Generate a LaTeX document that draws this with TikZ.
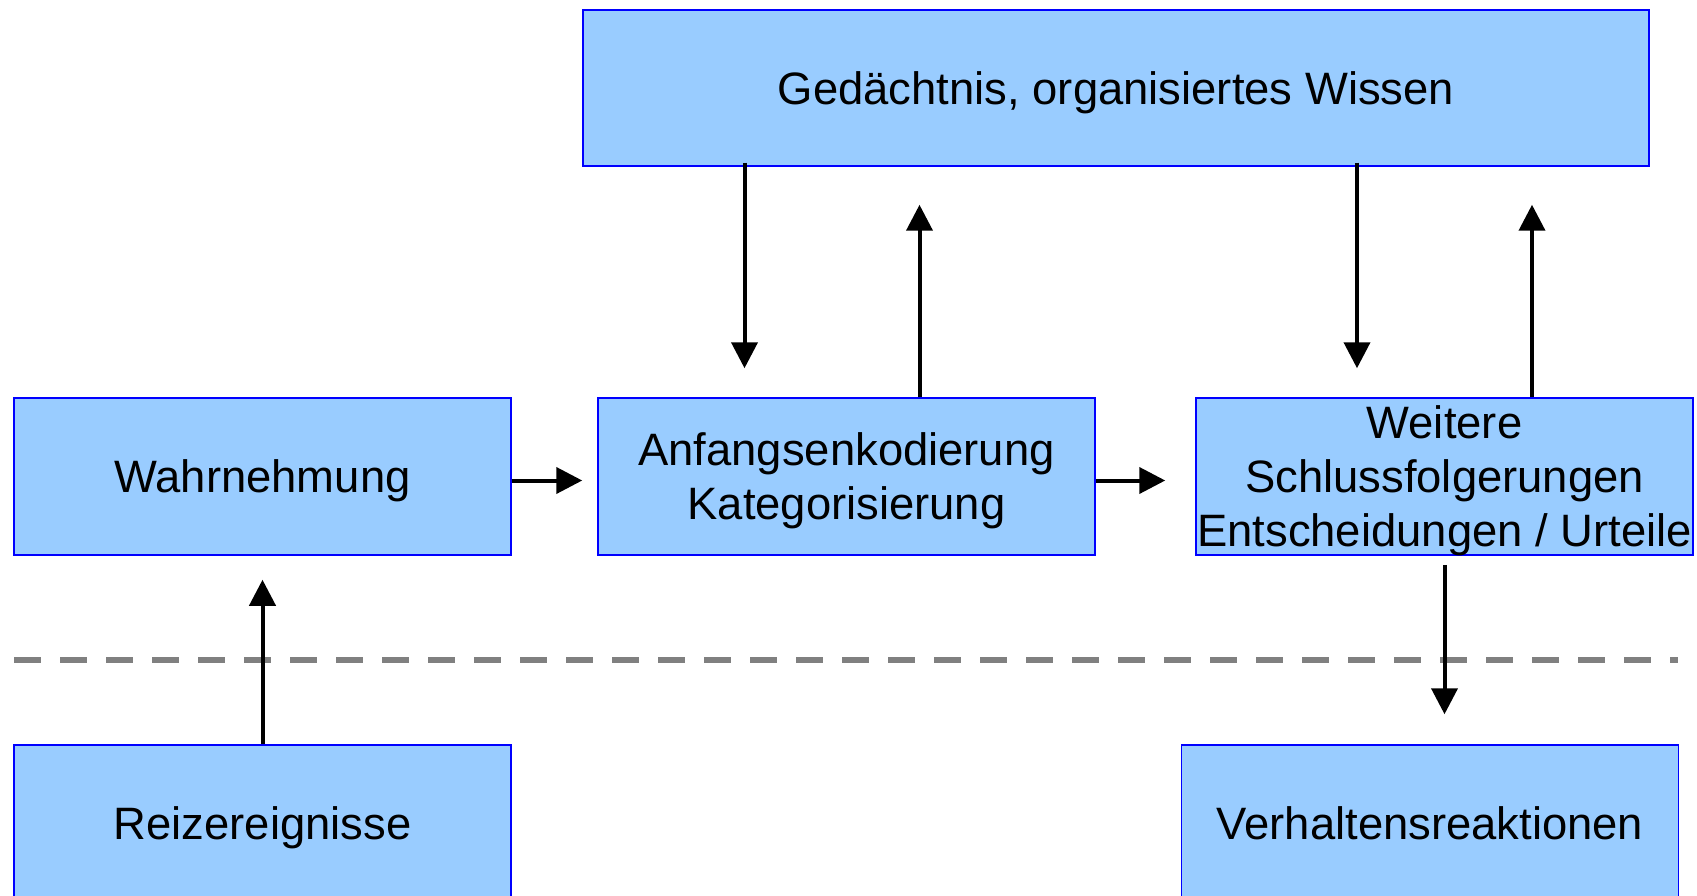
\documentclass[tikz,border=0pt]{standalone}
\usepackage{fontspec}
\setmainfont{Liberation Sans}
\usetikzlibrary{arrows.meta}
\definecolor{boxfill}{RGB}{153,204,255}
\definecolor{boxline}{RGB}{0,0,255}
\definecolor{divgray}{RGB}{128,128,128}
\begin{document}
\begin{tikzpicture}[x=1pt,y=-1pt,
                       box/.style={rectangle,draw=boxline,fill=boxfill,line width=1.5pt,
                                   minimum width=497pt,minimum height=157pt,inner sep=0pt,
                                   text depth=0pt,align=center,font=\fontsize{45.4}{54}\selectfont},
                       arr/.style={line width=4pt,-{Triangle[width=26pt,length=26pt]}},
                       divider/.style={draw=divgray,line width=6pt,dash pattern=on 27pt off 19pt}
                      ]
  \useasboundingbox (0,0) rectangle (1697,896);

  \node[box,minimum width=1066pt,minimum height=156pt] (memory) at (1116,88) {Ged\"achtnis, organisiertes Wissen};
  \node[box] (percept) at (262.5,476.5) {Wahrnehmung};
  \node[box] (encode) at (846.5,476.5) {Anfangsenkodierung\\Kategorisierung};
  \node[box] (infer) at (1444.5,476.5) {Weitere\\Schlussfolgerungen\\Entscheidungen / Urteile};
  \node[box] (stimuli) at (262.5,823.5) {Reizereignisse};
  \node[box] (behave) at (1430,823.5) {Verhaltensreaktionen};

  % border between inside and outside
  \draw[divider] (14,660) -- (1678,660);

  \path%
   ([yshift=-4pt]percept.east) edge [arr,shorten >=15pt] ([yshift=-4pt]percept.east -| encode.west)
   ([yshift=-4pt]encode.east) edge [arr,shorten >=30pt] ([yshift=-4pt]encode.east -| infer.west)
   ([xshift=-102pt]encode.north |- memory.south) edge [arr,shorten <=-4pt,shorten >=29pt] ([xshift=-102pt]encode.north)
   ([xshift=73pt]encode.north) edge [arr,shorten >=38pt] ([xshift=73pt]encode.north |- memory.south)
   ([xshift=-87.5pt]infer.north |- memory.south) edge [arr,shorten <=-4pt,shorten >=29pt] ([xshift=-87.5pt]infer.north)
   ([xshift=87.5pt]infer.north) edge [arr,shorten >=38pt] ([xshift=87.5pt]infer.north |- memory.south)
   (stimuli.north) edge [arr,shorten >=24pt] (percept.south)
   (infer.south) edge [arr,shorten <=9pt,shorten >=30pt] (infer.south |- behave.north);
 \end{tikzpicture}
\end{document}
